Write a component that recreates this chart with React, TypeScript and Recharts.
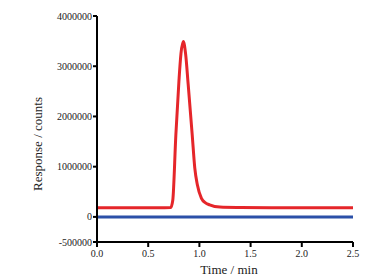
import { LineChart, Line, XAxis, YAxis } from "recharts"

// retention time (min)
const times = [
  0, 0.3, 0.6, 0.72, 0.74, 0.77, 0.8, 0.82, 0.843, 0.865, 0.89, 0.93, 0.955, 0.98,
  1.02, 1.06, 1.1, 1.2, 1.4, 1.7, 2.0, 2.3, 2.5,
]
// red trace (counts)
const redTrace = [
  180000, 180000, 180000, 185000, 330000, 1630000, 2700000, 3250000, 3490000, 3250000,
  2650000, 1630000, 970000, 640000, 370000, 280000, 240000, 195000, 185000, 180000,
  180000, 180000, 180000,
]
// blue trace (counts)
const blueTrace = [
  0, 0, 0, 0, 0, 0, 0, 0, 0, 0, 0, 0, 0, 0, 0, 0, 0, 0, 0, 0, 0, 0, 0,
]
const xTicks = [0, 0.5, 1.0, 1.5, 2.0, 2.5]
const yTicks = [-500000, 0, 1000000, 2000000, 3000000, 4000000]

const data = times.map((t, i) => ({ t, red: redTrace[i], blue: blueTrace[i] }))

const font = "'Liberation Serif', 'Times New Roman', serif"
const tickStyle = { fontFamily: font, fontSize: 10, fill: "#222", style: { fontFamily: font } }

export default function App() {
  return (
    <div style={{ position: "absolute", left: 0, top: 0, background: "#fff", fontFamily: font }}>
      <LineChart
        width={376}
        height={279}
        data={data}
        margin={{ top: 16, right: 23, bottom: 0, left: 0 }}
        style={{ fontFamily: font }}
      >
        <XAxis
          dataKey="t"
          type="number"
          domain={[0, 2.5]}
          ticks={xTicks}
          tickFormatter={(v: number) => v.toFixed(1)}
          height={37}
          tick={tickStyle}
          tickSize={5}
          tickMargin={3}
          stroke="#000"
          strokeWidth={2}
          label={{
            value: "Time / min",
            position: "insideBottom",
            offset: 5,
            dx: 4,
            style: { fontFamily: font, fontSize: 13, fill: "#222" },
          }}
        />
        <YAxis
          type="number"
          domain={[-500000, 4000000]}
          ticks={yTicks}
          width={97}
          tick={tickStyle}
          tickSize={4}
          tickMargin={1}
          stroke="#000"
          strokeWidth={2}
          interval={0}
          label={{
            content: ({ viewBox }: any) => (
              <text
                x={viewBox.x + 42}
                y={viewBox.y + viewBox.height / 2 + 15}
                transform={`rotate(-90, ${viewBox.x + 42}, ${viewBox.y + viewBox.height / 2 + 15})`}
                textAnchor="middle"
                style={{ fontFamily: font, fontSize: 13, fill: "#222" }}
              >
                Response / counts
              </text>
            ),
          }}
        />
        <Line
          type="monotone"
          dataKey="red"
          stroke="#e5262a"
          strokeWidth={3}
          dot={false}
          isAnimationActive={false}
        />
        <Line
          type="monotone"
          dataKey="blue"
          stroke="#2b50a8"
          strokeWidth={3}
          dot={false}
          isAnimationActive={false}
        />
      </LineChart>
    </div>
  )
}
